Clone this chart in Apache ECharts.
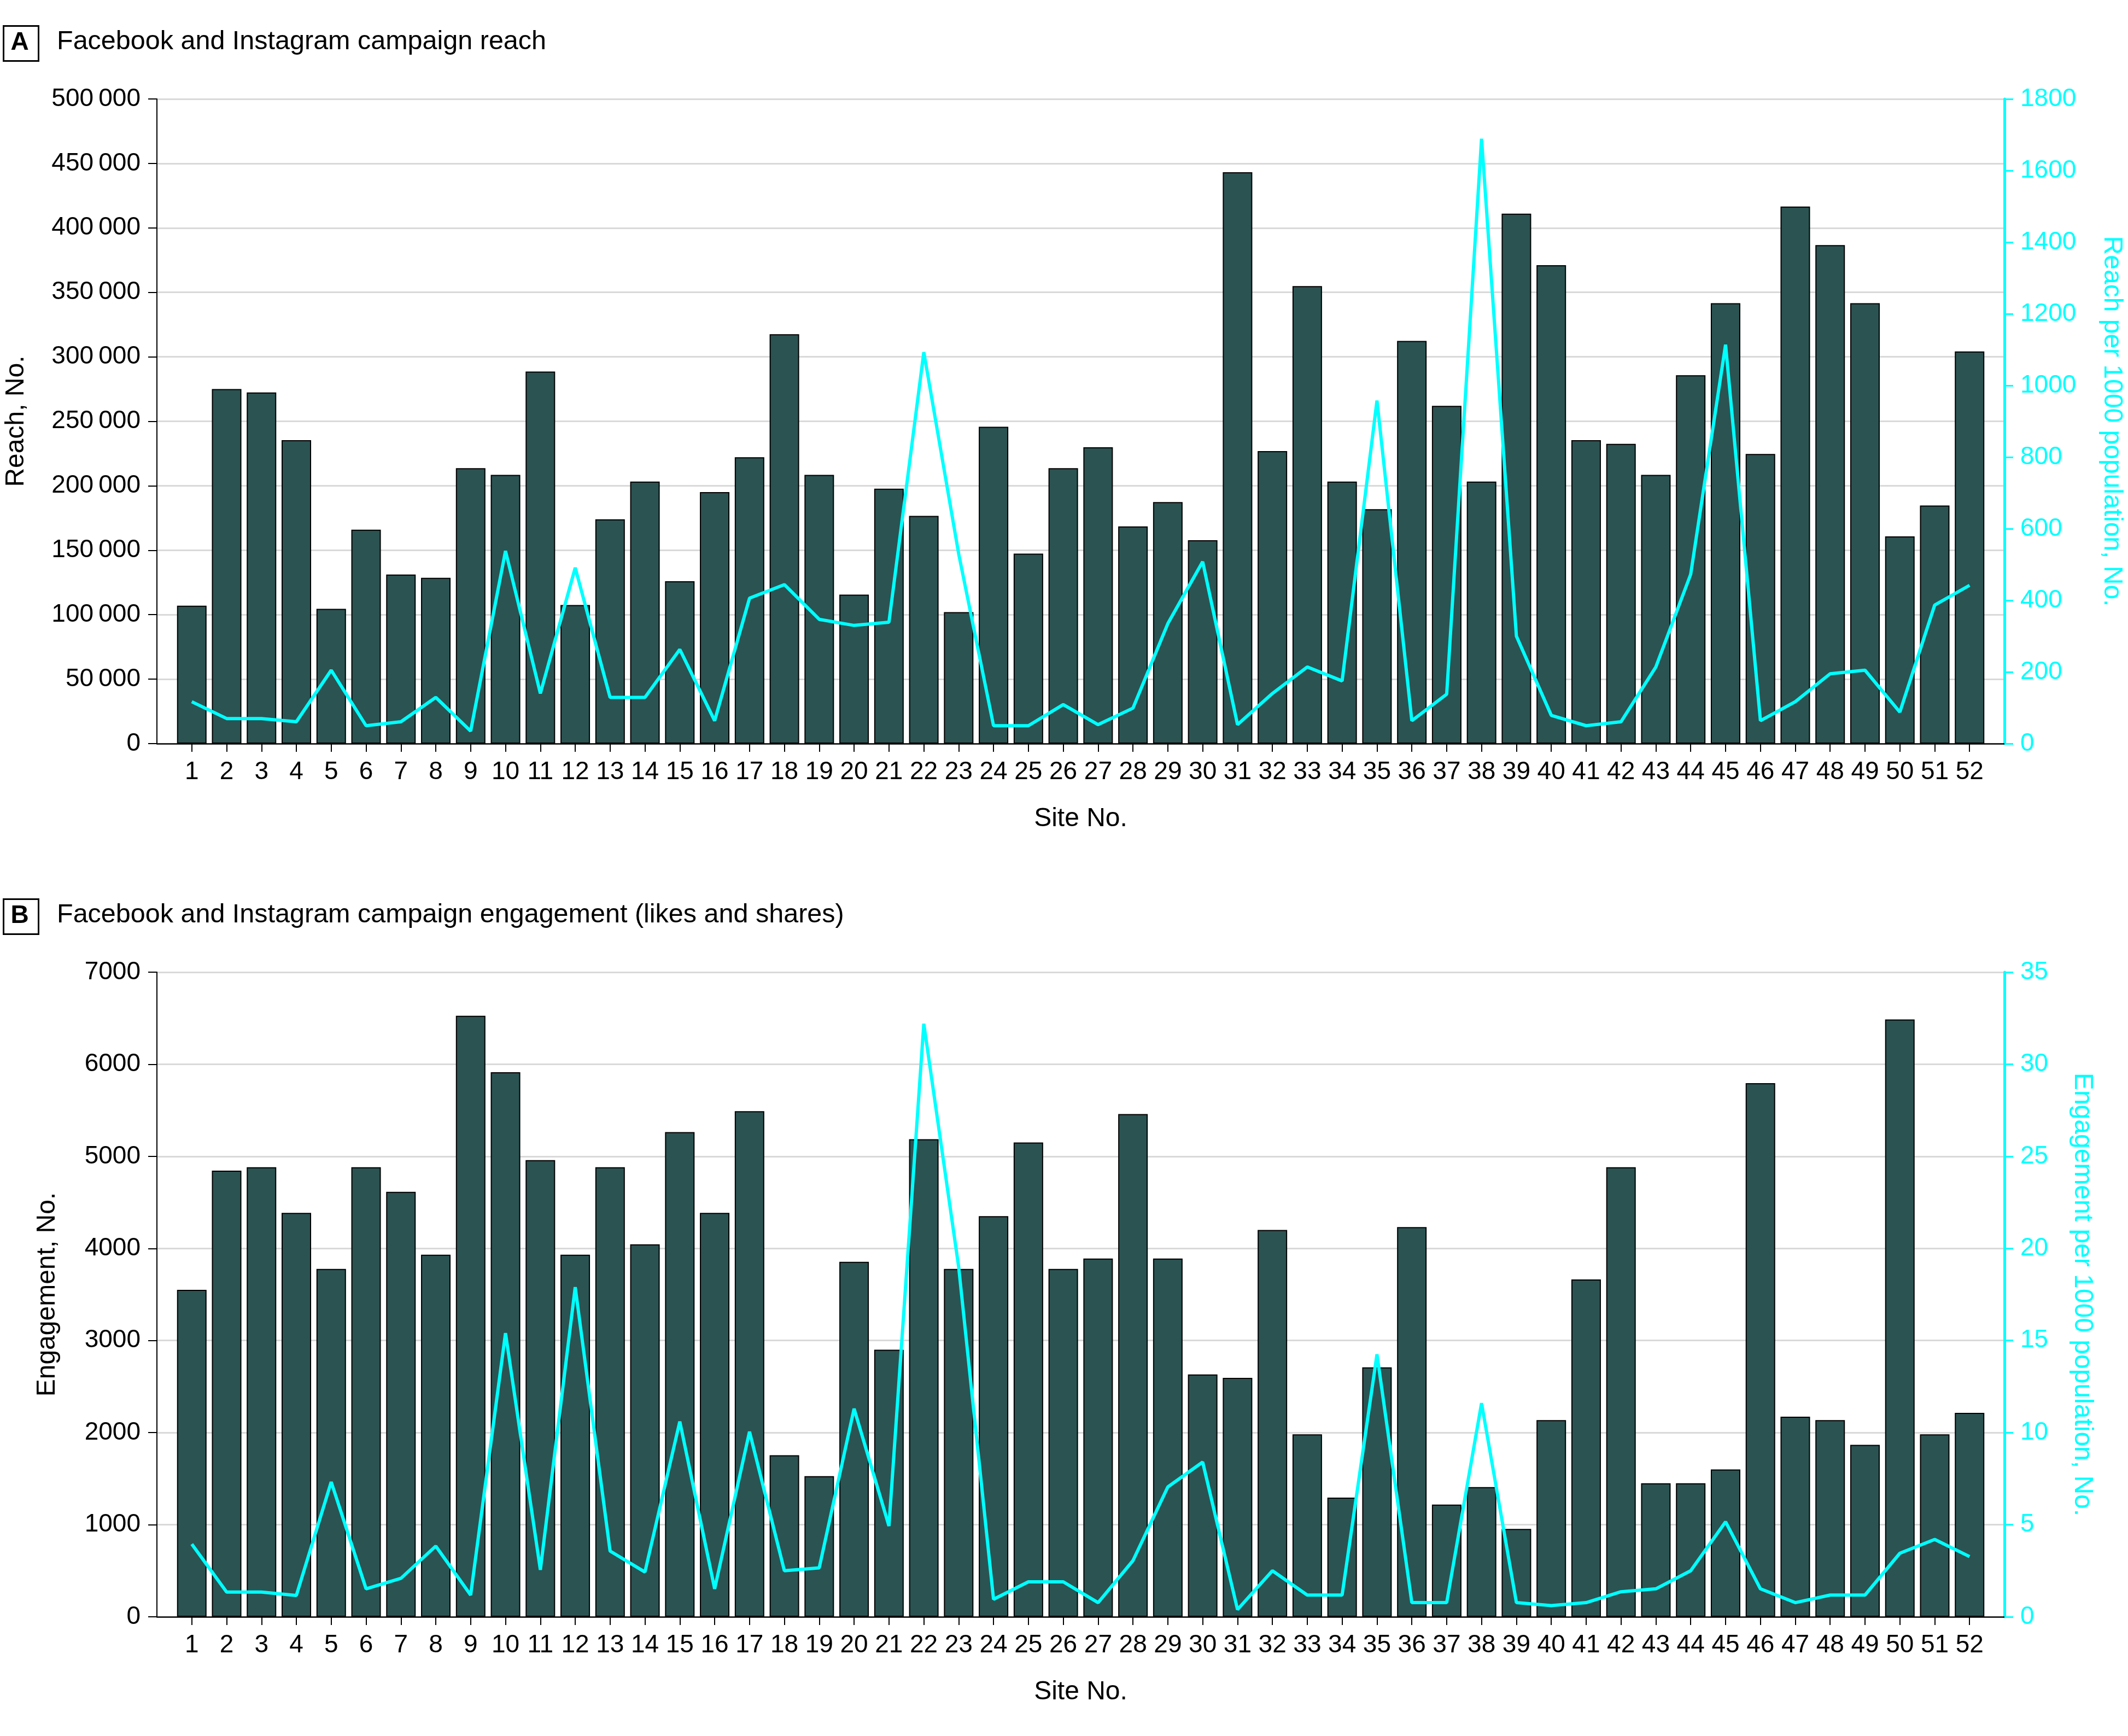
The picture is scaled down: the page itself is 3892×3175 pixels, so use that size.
<!DOCTYPE html>
<html>
<head>
<meta charset="utf-8">
<script src="https://cdn.jsdelivr.net/npm/echarts@6/dist/echarts.min.js"></script>
<style>
html,body{margin:0;padding:0;background:#fff;}
#chart{width:3892px;height:3175px;}
</style>
</head>
<body>
<div id="chart"></div>
<script>
// ---- Data ----
const sites = [1,2,3,4,5,6,7,8,9,10,11,12,13,14,15,16,17,18,19,20,21,22,23,24,25,26,27,28,29,30,31,32,33,34,35,36,37,38,39,40,41,42,43,44,45,46,47,48,49,50,51,52];
const reach = [107000,275000,272400,235400,104500,165900,131200,128600,213600,208400,
  288600,107500,174000,203200,126000,195100,222100,317500,208400,115600,
  197700,176600,102000,245800,147400,213600,229900,168500,187300,157800,
  443200,226900,354900,203200,181800,312300,262000,203200,411000,371100,
  235400,232500,208400,285700,341600,224700,416600,386700,341600,160700,
  184700,304200];
const reachPer1000 = [117,70,70,61,205,50,61,129,35,538,
  140,491,129,129,263,64,406,444,347,330,
  339,1093,530,50,50,109,53,99,335,508,
  53,140,214,175,958,64,138,1689,300,79,
  50,61,214,473,1114,64,117,195,205,88,
  387,442];
const engagement = [3550,4845,4882,4386,3777,4882,4614,3932,6527,5914,
  4959,3932,4882,4045,5264,4386,5491,1755,1527,3855,
  2900,5186,3777,4350,5150,3777,3891,5459,3891,2632,
  2595,4200,1982,1295,2709,4232,1218,1409,955,2136,
  3664,4882,1450,1450,1600,5795,2173,2136,1868,6486,
  1982,2214];
const engagementPer1000 = [3.95,1.34,1.34,1.16,7.32,1.52,2.09,3.84,1.18,15.4,
  2.55,17.9,3.57,2.43,10.6,1.52,10.05,2.5,2.66,11.3,
  4.93,32.2,19.0,0.95,1.9,1.9,0.77,3.05,7.05,8.4,
  0.39,2.5,1.18,1.18,14.25,0.77,0.77,11.6,0.77,0.61,
  0.77,1.36,1.52,2.5,5.16,1.52,0.77,1.18,1.18,3.45,
  4.2,3.27];
const panelTitles = ['Facebook and Instagram campaign reach', 'Facebook and Instagram campaign engagement (likes and shares)'];
const panelLetters = ['A', 'B'];

// ---- Styles ----
const FONT = '"Liberation Sans", Arial, sans-serif';
const BAR = '#2b5352';
const CYAN = '#00ffff';
const GRIDC = '#d9d9d9';

function fmtThousands(v) {
  const s = String(Math.round(v));
  if (s.length > 4) return s.slice(0, s.length - 3) + '\u2009' + s.slice(s.length - 3);
  return s;
}
function fmtPlain(v) { return String(v); }

const gridTops = [181, 1778];
const gridH = 1179;

function xAxisFor(gi) {
  return {
    type: 'value', gridIndex: gi, min: 0, max: 53, interval: 1,
    splitLine: {show: false},
    axisLine: {show: true, onZero: false, lineStyle: {color: '#000', width: 2.5}},
    axisTick: {show: true, customValues: sites, length: 15, lineStyle: {color: '#000', width: 2}},
    axisLabel: {customValues: sites, fontSize: 46, color: '#000', margin: 29, fontFamily: FONT},
    name: 'Site No.', nameLocation: 'middle', nameGap: 114,
    nameTextStyle: {fontSize: 48, color: '#000', fontFamily: FONT}
  };
}

function leftY(gi, max, interval, name, nameGap, fmt) {
  return {
    type: 'value', gridIndex: gi, position: 'left', min: 0, max: max, interval: interval,
    axisLine: {show: true, onZero: false, lineStyle: {color: '#000', width: 2}},
    axisTick: {show: true, length: 16, lineStyle: {color: '#000', width: 2}},
    axisLabel: {fontSize: 46, color: '#000', margin: 30, fontFamily: FONT, formatter: fmt},
    splitLine: {show: true, showMinLine: false, lineStyle: {color: GRIDC, width: 3}},
    name: name, nameLocation: 'middle', nameGap: nameGap,
    nameTextStyle: {fontSize: 48, color: '#000', fontFamily: FONT}
  };
}

function rightY(gi, max, interval, name, nameGap) {
  return {
    type: 'value', gridIndex: gi, position: 'right', min: 0, max: max, interval: interval,
    axisLine: {show: true, onZero: false, lineStyle: {color: CYAN, width: 5}},
    axisTick: {show: true, length: 16, lineStyle: {color: CYAN, width: 3}},
    axisLabel: {fontSize: 46, color: CYAN, margin: 29, fontFamily: FONT, formatter: fmtPlain},
    splitLine: {show: false},
    name: name, nameLocation: 'middle', nameGap: nameGap, nameRotate: -90,
    nameTextStyle: {fontSize: 48, color: CYAN, fontFamily: FONT}
  };
}

const option = {
  animation: false,
  backgroundColor: '#fff',
  grid: gridTops.map(t => ({left: 287, top: t, width: 3379, height: gridH, outerBoundsMode: 'none', containLabel: false})),
  xAxis: [xAxisFor(0), xAxisFor(1)],
  yAxis: [
    leftY(0, 500000, 50000, 'Reach, No.', 233, fmtThousands),
    rightY(0, 1800, 200, 'Reach per 1000 population, No.', 172),
    leftY(1, 7000, 1000, 'Engagement, No.', 176, fmtThousands),
    rightY(1, 35, 5, 'Engagement per 1000 population, No.', 118)
  ],
  series: [
    {type: 'bar', xAxisIndex: 0, yAxisIndex: 0, barWidth: 54,
      itemStyle: {color: BAR, borderColor: '#000', borderWidth: 2},
      data: sites.map((s, i) => [s, reach[i]])},
    {type: 'line', xAxisIndex: 0, yAxisIndex: 1, symbol: 'none', z: 5,
      lineStyle: {color: CYAN, width: 6},
      data: sites.map((s, i) => [s, reachPer1000[i]])},
    {type: 'bar', xAxisIndex: 1, yAxisIndex: 2, barWidth: 54,
      itemStyle: {color: BAR, borderColor: '#000', borderWidth: 2},
      data: sites.map((s, i) => [s, engagement[i]])},
    {type: 'line', xAxisIndex: 1, yAxisIndex: 3, symbol: 'none', z: 5,
      lineStyle: {color: CYAN, width: 6},
      data: sites.map((s, i) => [s, engagementPer1000[i]])}
  ],
  graphic: [0, 1].flatMap(p => {
    const cy = p === 0 ? 77 : 1674;
    return [
      {type: 'rect', left: 4, top: cy - 32, shape: {x: 0, y: 0, width: 64, height: 64},
        style: {fill: 'none', stroke: '#000', lineWidth: 3}},
      {type: 'text', x: 36, y: cy + 1, style: {text: panelLetters[p], font: 'bold 46px ' + FONT,
        fill: '#000', align: 'center', verticalAlign: 'middle'}},
      {type: 'text', x: 104, y: cy, style: {text: panelTitles[p], font: '48.5px ' + FONT,
        fill: '#000', align: 'left', verticalAlign: 'middle'}}
    ];
  })
};

const chart = echarts.init(document.getElementById('chart'), null, {renderer: 'canvas'});
chart.setOption(option);
</script>
</body>
</html>
